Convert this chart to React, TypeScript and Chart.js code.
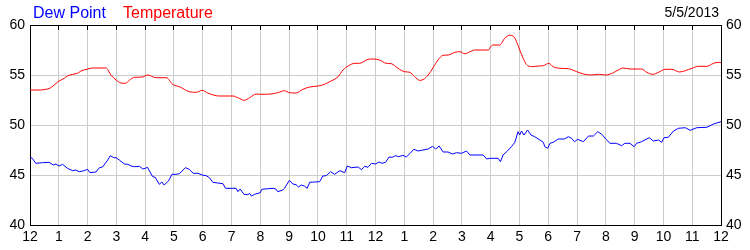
import { useEffect, useRef } from "react";
import { Chart, registerables } from "chart.js";

Chart.register(...registerables);

const DATE_LABEL = "5/5/2013";
const SERIES_NAMES = ["Dew Point", "Temperature"];
const SERIES_COLORS = ["#0000ff", "#ff0000"];
const HOUR_LABELS = ["12", "1", "2", "3", "4", "5", "6", "7", "8", "9", "10", "11", "12", "1", "2", "3", "4", "5", "6", "7", "8", "9", "10", "11", "12"];
const Y_MIN = 40;
const Y_MAX = 60;
const Y_STEP = 5;

const tempHours = [0, 0.37, 0.6, 0.72, 0.95, 1.01, 1.19, 1.3, 1.48, 1.65, 1.77, 2.01, 2.17, 2.64, 2.81, 2.99, 3.16, 3.31, 3.45, 3.63, 3.92, 4.0, 4.08, 4.37, 4.74, 4.95, 5.19, 5.53, 5.77, 5.98, 6.17, 6.58, 7.05, 7.22, 7.45, 7.63, 7.86, 8.0, 8.37, 8.6, 8.84, 9.01, 9.24, 9.48, 9.71, 10.01, 10.23, 10.41, 10.7, 10.87, 11.05, 11.28, 11.45, 11.74, 11.92, 12.14, 12.37, 12.55, 12.78, 13.01, 13.19, 13.36, 13.53, 13.65, 13.83, 14.0, 14.17, 14.35, 14.52, 14.76, 14.93, 15.1, 15.34, 15.45, 15.92, 16.0, 16.08, 16.31, 16.49, 16.66, 16.78, 16.9, 17.01, 17.13, 17.24, 17.42, 17.65, 17.83, 18.02, 18.17, 18.41, 18.7, 18.99, 19.22, 19.51, 19.74, 20.0, 20.26, 20.43, 20.6, 20.84, 21.24, 21.42, 21.63, 21.83, 22.06, 22.29, 22.56, 22.76, 22.99, 23.22, 23.51, 23.74, 23.92, 24.0];
const tempValues = [53.5, 53.5, 53.6, 53.73, 54.27, 54.4, 54.67, 54.9, 55.07, 55.17, 55.4, 55.6, 55.7, 55.7, 55.0, 54.5, 54.2, 54.17, 54.47, 54.77, 54.8, 54.93, 55.0, 54.73, 54.73, 54.07, 53.83, 53.33, 53.27, 53.47, 53.2, 52.9, 52.9, 52.73, 52.47, 52.73, 53.1, 53.07, 53.1, 53.23, 53.43, 53.23, 53.2, 53.57, 53.8, 53.9, 54.07, 54.33, 54.83, 55.5, 55.9, 56.17, 56.17, 56.57, 56.6, 56.5, 56.17, 56.13, 55.67, 55.33, 55.27, 54.83, 54.47, 54.53, 55.0, 55.73, 56.5, 56.97, 57.0, 57.27, 57.33, 57.13, 57.4, 57.5, 57.5, 57.83, 58.0, 58.0, 58.67, 58.97, 58.9, 58.33, 57.5, 56.67, 56.07, 55.83, 55.9, 55.93, 56.17, 55.83, 55.67, 55.63, 55.33, 55.1, 55.0, 55.07, 55.0, 55.23, 55.5, 55.7, 55.6, 55.6, 55.27, 55.07, 55.27, 55.57, 55.57, 55.3, 55.43, 55.67, 55.87, 55.87, 56.17, 56.27, 56.23];

const dewHours = [0.01, 0.08, 0.2, 0.43, 0.66, 0.81, 0.9, 1.01, 1.13, 1.3, 1.48, 1.59, 1.71, 1.88, 2.0, 2.08, 2.29, 2.41, 2.52, 2.7, 2.79, 2.91, 2.99, 3.1, 3.28, 3.4, 3.51, 3.63, 3.8, 3.92, 4.0, 4.08, 4.26, 4.35, 4.49, 4.58, 4.66, 4.81, 4.93, 5.07, 5.19, 5.4, 5.53, 5.67, 5.83, 5.98, 6.12, 6.23, 6.35, 6.52, 6.7, 6.79, 7.16, 7.22, 7.3, 7.43, 7.57, 7.63, 7.69, 7.8, 7.92, 8.0, 8.05, 8.26, 8.47, 8.55, 8.6, 8.78, 8.84, 9.01, 9.13, 9.24, 9.33, 9.42, 9.53, 9.63, 9.71, 9.88, 10.06, 10.17, 10.29, 10.44, 10.58, 10.76, 10.93, 11.02, 11.16, 11.4, 11.51, 11.63, 11.74, 11.86, 12.0, 12.12, 12.23, 12.35, 12.47, 12.58, 12.7, 12.81, 12.95, 13.07, 13.19, 13.33, 13.48, 13.65, 13.83, 13.98, 14.09, 14.21, 14.35, 14.52, 14.67, 14.81, 14.99, 15.16, 15.28, 15.74, 15.86, 15.98, 16.26, 16.34, 16.43, 16.58, 16.72, 16.84, 16.95, 17.01, 17.07, 17.16, 17.28, 17.4, 17.53, 17.71, 17.83, 17.88, 17.98, 18.06, 18.17, 18.35, 18.56, 18.7, 18.81, 18.91, 19.02, 19.22, 19.4, 19.57, 19.72, 19.86, 20.0, 20.07, 20.14, 20.37, 20.55, 20.66, 20.84, 20.98, 21.07, 21.24, 21.51, 21.65, 21.83, 21.94, 22.02, 22.17, 22.35, 22.52, 22.76, 22.93, 23.16, 23.51, 23.74, 24.0];
const dewValues = [46.77, 46.67, 46.17, 46.23, 46.27, 46.0, 46.1, 45.9, 46.07, 45.67, 45.43, 45.5, 45.33, 45.43, 45.57, 45.23, 45.3, 45.73, 45.8, 46.5, 46.93, 46.73, 46.73, 46.5, 46.1, 46.07, 45.9, 45.83, 45.87, 45.6, 45.67, 45.77, 44.83, 44.77, 44.07, 44.3, 44.0, 44.4, 45.07, 45.07, 45.13, 45.73, 45.57, 45.17, 45.17, 45.0, 44.93, 44.73, 44.27, 44.2, 44.13, 43.67, 43.67, 43.33, 43.6, 43.07, 43.03, 43.17, 42.9, 43.07, 43.17, 43.23, 43.57, 43.63, 43.67, 43.57, 43.33, 43.5, 43.67, 44.47, 44.1, 44.03, 43.8, 44.0, 43.9, 43.67, 44.27, 44.3, 44.33, 44.9, 44.93, 45.33, 45.07, 45.43, 45.23, 45.9, 45.73, 45.8, 45.53, 45.87, 45.77, 46.17, 46.1, 46.3, 46.17, 46.27, 46.8, 46.77, 46.93, 46.83, 46.97, 46.8, 47.13, 47.57, 47.4, 47.5, 47.6, 47.87, 47.6, 47.9, 47.3, 47.3, 47.1, 47.23, 47.17, 47.4, 47.0, 47.0, 46.6, 46.67, 46.67, 46.33, 47.0, 47.4, 47.83, 48.27, 49.33, 49.0, 49.4, 49.0, 49.5, 49.0, 48.83, 48.5, 48.27, 47.83, 47.67, 48.17, 48.27, 48.6, 48.6, 48.83, 48.67, 48.33, 48.57, 48.33, 48.9, 48.9, 49.33, 49.07, 48.6, 48.4, 48.17, 48.17, 47.93, 48.17, 48.17, 47.83, 48.17, 48.33, 48.73, 48.4, 48.5, 48.27, 48.73, 48.77, 49.4, 49.67, 49.73, 49.47, 49.73, 49.77, 50.1, 50.33];

const FONT = "'Liberation Sans', Arial, sans-serif";

const framePlugin = {
  id: "frameAndText",
  afterDraw(chart: any) {
    const { ctx, chartArea: a, scales } = chart;
    ctx.save();
    ctx.strokeStyle = "#000";
    ctx.lineWidth = 1;
    ctx.beginPath();
    ctx.moveTo(a.left, a.top + 0.5);
    ctx.lineTo(a.right + 1, a.top + 0.5);
    for (let i = 0; i < HOUR_LABELS.length; i++) {
      const x = Math.round(scales.x.getPixelForValue(i) - 0.5) + 0.5;
      ctx.moveTo(x, a.top);
      ctx.lineTo(x, a.top + 5);
    }
    ctx.stroke();

    ctx.textBaseline = "alphabetic";
    ctx.font = `16px ${FONT}`;
    ctx.textAlign = "left";
    ctx.fillStyle = SERIES_COLORS[0];
    ctx.fillText(SERIES_NAMES[0], 33, 18);
    ctx.fillStyle = SERIES_COLORS[1];
    ctx.fillText(SERIES_NAMES[1], 123, 18);

    ctx.font = `14px ${FONT}`;
    ctx.fillStyle = "#000";
    ctx.textAlign = "right";
    ctx.fillText(DATE_LABEL, 719, 17);
    ctx.restore();
  },
};

export default function App() {
  const ref = useRef<HTMLCanvasElement | null>(null);

  useEffect(() => {
    if (!ref.current) return;
    const tickFont = { family: FONT, size: 14 };
    const chart = new Chart(ref.current, {
      type: "line",
      data: {
        datasets: [
          {
            label: SERIES_NAMES[0],
            data: dewHours.map((h, i) => ({ x: h, y: dewValues[i] })),
            borderColor: SERIES_COLORS[0],
            borderWidth: 1,
            pointRadius: 0,
            tension: 0,
            yAxisID: "y",
          },
          {
            label: SERIES_NAMES[1],
            data: tempHours.map((h, i) => ({ x: h, y: tempValues[i] })),
            borderColor: SERIES_COLORS[1],
            borderWidth: 1,
            pointRadius: 0,
            cubicInterpolationMode: "monotone",
            yAxisID: "y",
          },
        ],
      },
      options: {
        responsive: false,
        animation: false,
        devicePixelRatio: 1,
        layout: { padding: { top: 25, left: 0, right: 0, bottom: 0 } },
        plugins: { legend: { display: false }, tooltip: { enabled: false }, title: { display: false } },
        scales: {
          x: {
            type: "linear",
            min: 0,
            max: HOUR_LABELS.length - 1,
            afterFit: (s: any) => { s.height = 25; },
            ticks: {
              stepSize: 1,
              autoSkip: false,
              maxRotation: 0,
              padding: 4,
              color: "#000",
              font: tickFont,
              callback: (v: any) => HOUR_LABELS[Math.round(v)] ?? "",
            },
            grid: { color: "#cccccc", drawTicks: false },
            border: { color: "#000", width: 1 },
          },
          y: {
            position: "left",
            min: Y_MIN,
            max: Y_MAX,
            afterFit: (s: any) => { s.width = 30; },
            ticks: { stepSize: Y_STEP, padding: 5, color: "#000", font: tickFont },
            grid: { color: "#cccccc", drawTicks: false },
            border: { color: "#000", width: 1 },
          },
          y2: {
            position: "right",
            min: Y_MIN,
            max: Y_MAX,
            afterFit: (s: any) => { s.width = 29; },
            ticks: { stepSize: Y_STEP, padding: 5, color: "#000", font: tickFont },
            grid: { drawOnChartArea: false, drawTicks: false },
            border: { color: "#000", width: 1 },
          },
        },
      },
      plugins: [framePlugin],
    } as any);
    return () => chart.destroy();
  }, []);

  return (
    <div style={{ position: "fixed", left: 0, top: 0, width: 750, height: 250, background: "#fff" }}>
      <canvas ref={ref} width={750} height={250} style={{ width: 750, height: 250, display: "block" }} />
    </div>
  );
}
